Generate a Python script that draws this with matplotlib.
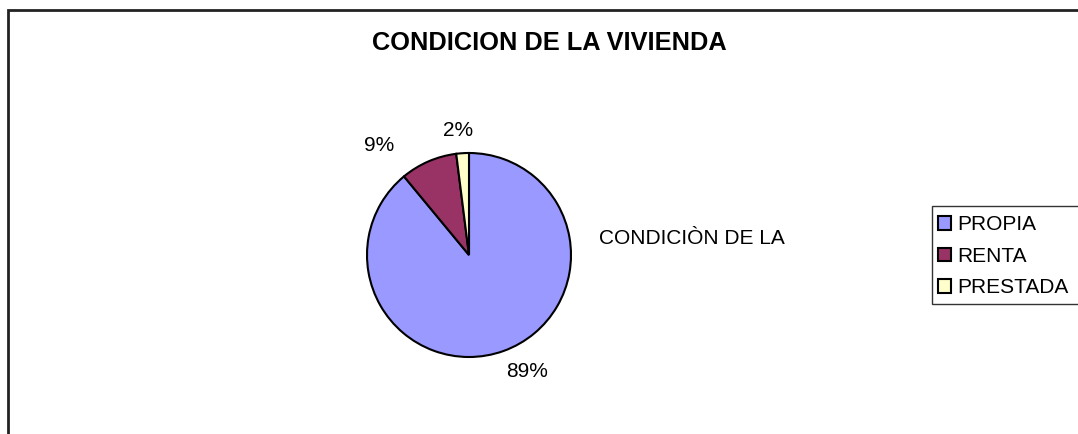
import matplotlib
matplotlib.use("Agg")
import matplotlib.pyplot as plt
from matplotlib.patches import Rectangle

plt.rcParams['font.family'] = ['Liberation Sans', 'DejaVu Sans']

categories = ["PROPIA", "RENTA", "PRESTADA"]
values = [89, 9, 2]
colors = ["#9999FF", "#993366", "#FFFFCC"]
title = "CONDICION DE LA VIVIENDA"
series_name = "CONDICIÒN DE LA"

W, H = 1078, 434
fig = plt.figure(figsize=(W / 100, H / 100), dpi=100)

# chart border (right and bottom edges fall outside the picture)
fig.patches.append(Rectangle((7.5 / W, -0.1), 1.2, (H - 10.5) / H + 0.1,
                             transform=fig.transFigure, fill=False,
                             edgecolor="#222222", linewidth=2))

cx, cy, r = 469, 255, 102
ax = fig.add_axes([(cx - r) / W, (H - cy - r) / H, 2 * r / W, 2 * r / H])
wedges, texts, autotexts = ax.pie(
    values, colors=colors, startangle=90, counterclock=False,
    autopct=lambda p: f"{p:.0f}%", pctdistance=1.25,
    wedgeprops=dict(edgecolor="black", linewidth=1.5),
    textprops=dict(fontsize=15))
ax.set_xlim(-1, 1)
ax.set_ylim(-1, 1)
ax.set_aspect("equal")
ax.axis("off")

label_pos = [(0.57, -1.14), (-0.88, 1.07), (-0.11, 1.22)]
for t, p in zip(autotexts, label_pos):
    t.set_position(p)
    t.set_ha("center")
    t.set_va("center")
    t.set_clip_on(False)

fig.text(549 / W, 1 - 43 / H, title, ha="center", va="center",
         fontsize=18.3, fontweight="bold")
fig.text(599 / W, 1 - 239 / H, series_name, ha="left", va="center",
         fontsize=15)

# legend box (its right edge runs past the picture)
fig.patches.append(Rectangle((931.5 / W, 1 - 303.5 / H), 200 / W, 98 / H,
                             transform=fig.transFigure, fill=True,
                             facecolor="white", edgecolor="#333333",
                             linewidth=1, zorder=0))
leg = fig.legend(wedges, categories, loc="upper left",
                 bbox_to_anchor=(931 / W, 1 - 208 / H),
                 bbox_transform=fig.transFigure, borderaxespad=0,
                 fontsize=15, frameon=False,
                 handlelength=0.6, handleheight=0.6, handletextpad=0.3,
                 labelspacing=0.6, borderpad=0.35)

fig.savefig("out.png", dpi=100)
